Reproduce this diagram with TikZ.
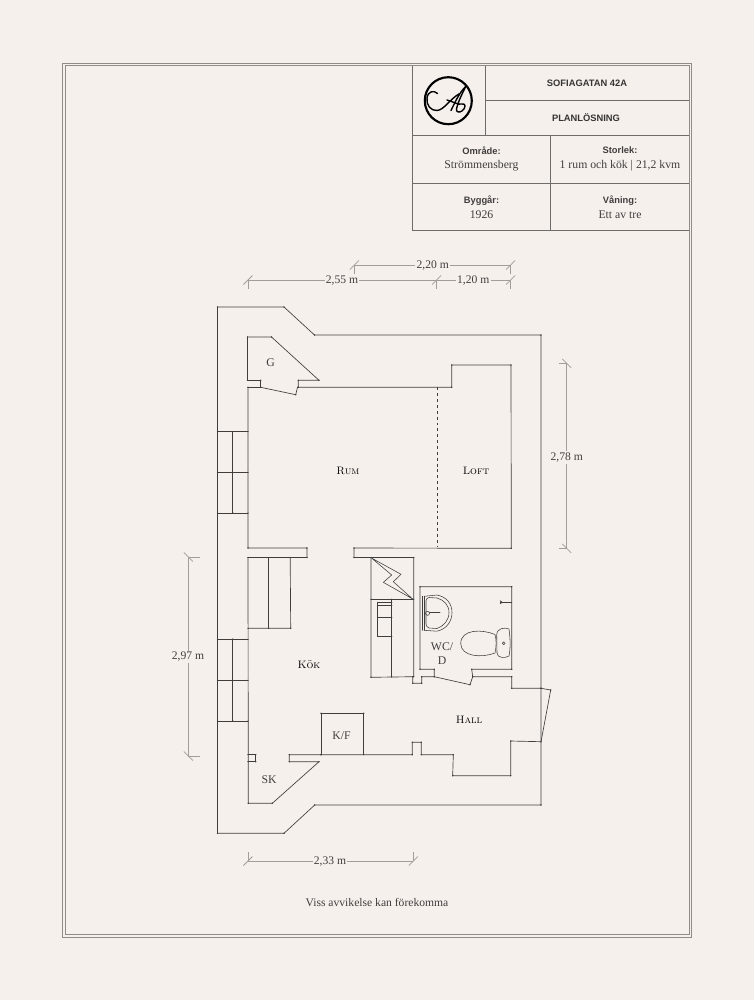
\documentclass[tikz,border=0pt]{standalone}
\usepackage{fontspec}
\usetikzlibrary{decorations.pathreplacing}
\newfontfamily\serifbody{Liberation Serif}
\newfontfamily\sansbold{Liberation Sans}[BoldFont={Liberation Sans Bold}]
\definecolor{paper}{HTML}{F6F0ED}
\definecolor{ink}{HTML}{403E3D}
\definecolor{framec}{HTML}{8F8C8A}
\definecolor{tablec}{HTML}{6E6C6B}
\definecolor{dimc}{HTML}{A09D9B}
\tikzset{
  x=0.75pt,y=-0.75pt,
  wall/.style={draw=ink,line width=0.5pt,line join=round,line cap=round,
    postaction={decorate,decoration={show path construction,
      lineto code={\fill[ink] (\tikzinputsegmentfirst) circle[radius=0.5pt];
                   \fill[ink] (\tikzinputsegmentlast) circle[radius=0.5pt];}}}},
  thin wall/.style={draw=ink,line width=0.42pt,line join=round,line cap=round},
  frameline/.style={draw=framec,line width=0.6pt},
  tableline/.style={draw=tablec,line width=0.55pt},
  dimline/.style={draw=dimc,line width=0.55pt},
  dimtext/.style={fill=paper,inner sep=1pt,text=ink,font=\serifbody\fontsize{8.7}{10}\selectfont},
  room/.style={text=black,inner sep=0pt,font=\fontsize{8.1}{10}\selectfont\scshape},
  fixture/.style={text=ink,inner sep=0pt,font=\serifbody\fontsize{8.8}{10}\selectfont},
  head/.style={text=ink!85!black,inner sep=0pt,font=\sansbold\bfseries\fontsize{7}{9}\selectfont},
  cellbody/.style={text=ink,align=center,inner sep=0pt,font=\serifbody\fontsize{8.8}{11}\selectfont},
  logo/.style={draw=black,line width=1.6pt,line cap=round,line join=round},
  logothin/.style={draw=black,line width=1.05pt,line cap=round,line join=round},
}
\newcommand{\cellhead}[1]{{\sansbold\bfseries\fontsize{7}{11}\selectfont #1}}
\begin{document}
\begin{tikzpicture}
\useasboundingbox (0,0) rectangle (754,1000);
\fill[paper] (0,0) rectangle (754,1000);
% frame
\draw[frameline] (62.5,63) rectangle (691.5,937);
\draw[frameline] (65,65.5) rectangle (689,934.5);
% title table
\draw[tableline] (412,65.5) -- (412,230) -- (689,230);
\draw[tableline] (485.3,65.5) -- (485.3,135.3);
\draw[tableline] (485.3,100.3) -- (689,100.3);
\draw[tableline] (412,135.3) -- (689,135.3);
\draw[tableline] (412,183.3) -- (689,183.3);
\draw[tableline] (550.7,135.3) -- (550.7,230);
\node[head] (title1) at (587,83) {SOFIAGATAN 42A};
\node[head] (title2) at (586,117.5) {PLANLÖSNING};
\node[cellbody] (c1) at (481.5,159) {\cellhead{Område:}\\Strömmensberg};
\node[cellbody] (c2) at (620,159) {\cellhead{Storlek:}\\1 rum och kök | 21,2 kvm};
\node[cellbody] (c3) at (481.5,207) {\cellhead{Byggår:}\\1926};
\node[cellbody] (c4) at (620,207) {\cellhead{Våning:}\\Ett av tre};
% logo
\draw[logo] (448.3,100.7) circle (23.5);
\draw[logothin] (437.5,93.5) .. controls (434,90) and (428,91) .. (427,98)
  .. controls (426,105) and (431,111) .. (437,110.5)
  .. controls (444,110) and (450,99) .. (459,94) ;
\draw[logothin] (465.7,86.5) .. controls (460,92) and (456,100) .. (451,110.5);
\draw[logothin] (465.7,86.5) .. controls (462,94) and (458,102) .. (456.5,109)
  .. controls (456,112) and (459,113) .. (462,111)
  .. controls (466,108) and (466,103) .. (462,104)
  .. controls (458,105) and (454,102) .. (447,100);
% plan: outer walls
\draw[wall] (217.5,307) -- (284,307) -- (314.5,335) -- (541,335) -- (541,688.3) -- (541,805)
  -- (314.7,805) -- (284,833.3) -- (217.5,833.3) -- (217.5,307);
% store G
\draw[wall] (247.5,380.3) -- (247.5,337) -- (271.5,337) -- (319,380.3) -- (298.3,380.3) -- (298.3,387.3)
  -- (451.7,387.3) -- (451.7,365) -- (511,365) -- (511.3,548.3) -- (354,548) -- (354,557.5) -- (413.7,557.5);
\draw[wall] (247.5,380.3) -- (260.7,380.3) -- (260.7,387.3) -- (248,387.3);
\draw[wall] (260.7,387.3) -- (295.7,394.7) -- (297.5,387.3);
% left inner wall + windows
\draw[wall] (248,387.3) -- (248,548) -- (307,548) -- (307,557.5) -- (248,557.5) -- (248.3,803.3) -- (272.3,803.3) -- (319,761.7) -- (289.3,761.7) -- (289.3,754.7) -- (321,754.7);
\foreach \yy in {431.7,472.3,513,639.3,680.3,721} {
  \draw[wall] (217.5,\yy) -- (248,\yy);
  \draw[wall] (232.7,\yy) -- (232.7,\yy);
}
\draw[wall] (232.7,431.7) -- (232.7,513);
\draw[wall] (232.7,639.3) -- (232.7,721);
% kitchen counter
\draw[wall] (248,628.3) -- (290.7,628.3) -- (290.2,557.5);
\draw[wall] (268.7,557.5) -- (268.7,628.3);
% notch at SK
\draw[wall] (248,754.7) -- (255.7,754.7) -- (255.7,761.7) -- (248,761.7);
% K/F
\draw[wall] (321,754.7) -- (321,713.3) -- (363.7,713.3) -- (363.7,754.7);
% hall wall
\draw[wall] (321,754.7) -- (412.3,754.7) -- (412.3,742.3) -- (421.3,742.3) -- (421.3,754.7) -- (453.3,754.7)
  -- (452.7,775.7) -- (510.7,775.7) -- (510.7,741) -- (541,741.7) -- (550.7,690) -- (541,688.3) -- (511.7,688.3) -- (511.7,676.7) -- (472.7,676.7) -- (470,684.7) -- (434.3,676.7) -- (421.7,676.7) -- (421.7,683.3) -- (412.7,683.3) -- (412.7,676.7);
% closet
\draw[wall] (413.7,557.5) -- (413.7,676.7) -- (371,677.3) -- (371,557.5);
\draw[wall] (371,599.3) -- (413.7,599.3);
\draw[wall] (391.7,599.3) -- (391.7,677);
\draw[thin wall] (371.5,558) -- (401,574.3) -- (393.3,581.7) -- (412.7,599) -- (383.3,582.3) -- (391.7,575) -- cycle;
\draw[thin wall] (377.3,602.7) -- (392,602.7) (377.3,636.7) -- (392,636.7) (377.3,602.7) -- (377.3,636.7);
\draw[thin wall] (377.3,617.3) -- (392,617.3);
\draw[thin wall] (377.3,605.7) -- (392,605.7);
% WC
\draw[wall] (434.3,676.7) -- (434.3,669.3) -- (420,669.3) -- (420,586.7) -- (511.7,586.7) -- (511.7,669.3) -- (471.7,669.3) -- (472.7,676.7);
% sink
\draw[thin wall] (422,596.3) -- (422,630.3);
\draw[thin wall] (424,596.3) -- (424,630.3);
\draw[thin wall] (424,596.3) -- (437,595) .. controls (447,597) and (452,604) .. (452,612.5) .. controls (452,621) and (447,629) .. (437,631.2) -- (424,630.3);
\draw[thin wall] (429,597.5) -- (437,598) .. controls (444,600) and (449,605) .. (449,612.5) .. controls (449,620) and (444,626) .. (437,628.5) -- (429,628) .. controls (427,627) and (426,626) .. (426,624) -- (426,601) .. controls (426,599) and (427,598) .. (429,597.5);
\draw[thin wall] (427.5,613.3) circle (2);
\draw[thin wall] (429.5,612.7) -- (440,612.7);
% toilet
\draw[thin wall] (496.7,635) .. controls (496.7,628) and (505,627) .. (509,629) .. controls (510.5,640) and (510.5,648) .. (509,656) .. controls (505,658.5) and (497,658) .. (497,653) -- cycle;
\draw[thin wall] (503.7,643.3) circle (1.4);
\draw[thin wall] (495,634.5) .. controls (482,629) and (461,629) .. (460.7,643.5) .. controls (461,657) and (482,658) .. (495,653) .. controls (496.5,646) and (496.5,640) .. (495,634.5);
% hook
\draw[thin wall] (501,602.3) -- (511.7,602.3);
\draw[thin wall] (500,600.5) -- (502,602.3) -- (500,604);
\fill[ink] (501,602.3) circle (1.1);
% loft dashed
\draw[draw=ink,line width=0.5pt,dash pattern=on 2.2pt off 2.2pt] (437.3,387.3) -- (437.3,547);
% labels
\node[fixture] (g) at (270.5,362.5) {G};
\node[room] (rum) at (348,471) {Rum};
\node[room] (loft) at (476,471) {Loft};
\node[room] (kok) at (309,664.5) {Kök};
\node[room] (hall) at (469,719.5) {Hall};
\node[fixture,align=center] (wc) at (442,653.5) {WC/\\D};
\node[fixture] (kf) at (341.5,735.5) {K/F};
\node[fixture] (sk) at (269,780) {SK};
% dimensions
\coordinate (a1) at (354.3,265); \coordinate (a2) at (510.7,265);
\coordinate (b1) at (248,280); \coordinate (b2) at (436.7,280); \coordinate (b3) at (510.7,280);
\coordinate (r1) at (566.7,363.3); \coordinate (r2) at (566.7,548.3);
\coordinate (l1) at (188.3,557); \coordinate (l2) at (188.3,756);
\coordinate (d1) at (248,861); \coordinate (d2) at (413.3,861);
\draw[dimline] (a1) -- (a2) (b1) -- (b3) (r1) -- (r2) (l1) -- (l2) (d1) -- (d2);
% horizontal dim ticks
\foreach \c in {a1,a2,b1,b2,b3,d1,d2} {
  \draw[dimline] ([shift={(-4.5,4.5)}]\c) -- ([shift={(4.5,-4.5)}]\c);
}
\foreach \c in {a1,a2,b1,b2,b3} \draw[dimline] (\c) -- ++(0,9);
\foreach \c in {d1,d2} \draw[dimline] (\c) -- ++(0,-9.5);
\foreach \c in {r1,r2,l1,l2} \draw[dimline] ([shift={(-4.5,-4.5)}]\c) -- ([shift={(4.5,4.5)}]\c);
\foreach \c in {r1,r2} \draw[dimline] (\c) -- ++(-7.5,0);
\foreach \c in {l1,l2} \draw[dimline] (\c) -- ++(11.5,0);
\node[dimtext] (da) at (432.7,266) {2,20 m};
\node[dimtext] (db) at (342,281) {2,55 m};
\node[dimtext] (dc) at (473.3,281) {1,20 m};
\node[dimtext] (dr) at (566.7,457.5) {2,78 m};
\node[dimtext] (dl) at (188,657) {2,97 m};
\node[dimtext] (dd) at (330,861.5) {2,33 m};
\node[dimtext,fill=none] (foot) at (377,902.5) {Viss avvikelse kan förekomma};
\end{tikzpicture}
\end{document}
